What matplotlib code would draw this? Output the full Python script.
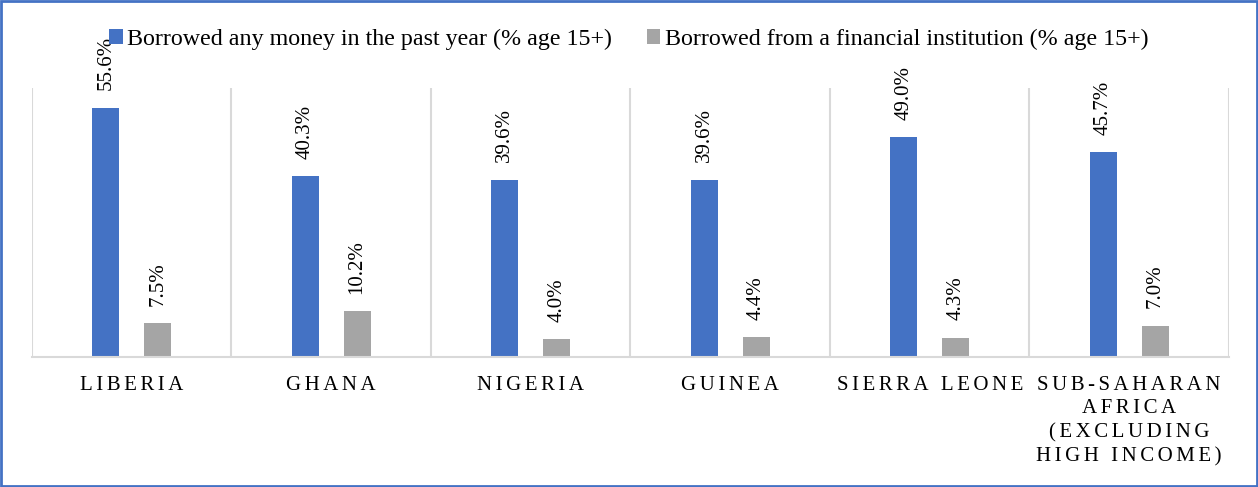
import matplotlib.pyplot as plt
from matplotlib.patches import Rectangle
import numpy as np

plt.rcParams['font.family'] = ['Liberation Serif', 'DejaVu Serif']

countries = ['LIBERIA', 'GHANA', 'NIGERIA', 'GUINEA', 'SIERRA LEONE',
             'SUB-SAHARAN\nAFRICA\n(EXCLUDING\nHIGH INCOME)']
borrowed_any = [55.6, 40.3, 39.6, 39.6, 49.0, 45.7]
borrowed_fin = [7.5, 10.2, 4.0, 4.4, 4.3, 7.0]
series_names = ['Borrowed any money in the past year (% age 15+)',
                'Borrowed from a financial institution (% age 15+)']

blue = '#4472C4'
gray = '#A5A5A5'
grid = '#D9D9D9'


def spaced(s):
    # widen the letter spacing of the category labels
    return '\n'.join('\u2006'.join(line) for line in s.split('\n'))


fig = plt.figure(figsize=(12.58, 4.87), dpi=100)
ax = fig.add_axes([0.0254, 0.267, 0.9515, 0.552])

x = np.arange(len(countries))
w = 0.135
off = 0.13
b1 = ax.bar(x - off, borrowed_any, w, color=blue, label=series_names[0])
b2 = ax.bar(x + off, borrowed_fin, w, color=gray, label=series_names[1])

for bars, vals in [(b1, borrowed_any), (b2, borrowed_fin)]:
    for r, v in zip(bars, vals):
        ax.annotate('%.1f%%' % v, (r.get_x() + r.get_width() / 2, v),
                    xytext=(0, 12.5), textcoords='offset points',
                    rotation=90, ha='center', va='bottom', fontsize=15,
                    color='black')

ax.set_xlim(-0.5, len(countries) - 0.5)
ax.set_ylim(0, 60)
ax.set_yticks([])
for s in ['top', 'left', 'right']:
    ax.spines[s].set_visible(False)
ax.spines['bottom'].set_color(grid)
ax.spines['bottom'].set_linewidth(1.5)

# vertical separators between the categories
for xs in np.arange(-0.5, len(countries), 1.0):
    ax.axvline(xs, color=grid, lw=1.5, zorder=0)

ax.set_xticks(x)
ax.set_xticklabels([spaced(c) for c in countries], fontsize=15,
                   color='black', linespacing=1.34)
ax.tick_params(axis='x', length=0, pad=13.5)

fig.legend(loc='upper center', bbox_to_anchor=(0.5, 0.985), ncol=2,
           frameon=False, fontsize=17.3, handlelength=0.55, handleheight=0.55,
           handletextpad=0.2, columnspacing=1.45)

fig.add_artist(Rectangle((0.001, 0.002), 0.998, 0.996, transform=fig.transFigure,
                         fill=False, edgecolor=blue, lw=2))

fig.savefig('out.png', dpi=100)
